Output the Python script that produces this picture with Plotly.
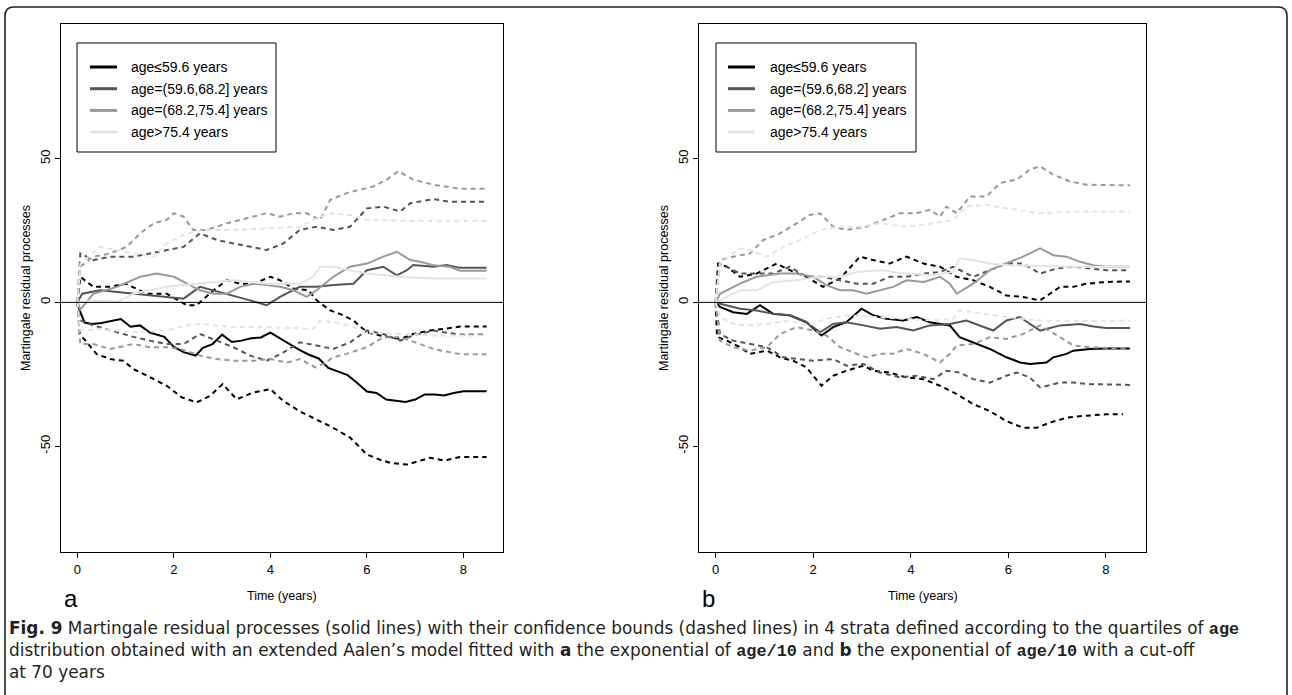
import plotly.graph_objects as go

# ------------------------------------------------------------------ data
LEGEND_LABELS = ["age≤59.6 years", "age=(59.6,68.2] years", "age=(68.2,75.4] years", "age>75.4 years"]
X_TICKS = [0, 2, 4, 6, 8]
Y_TICKS = [-50, 0, 50]

# ---- panel a : black stratum (age<=59.6)
A_BLK_T = [0, 0.05, 0.15, 0.3, 0.5, 0.7, 0.9, 1.1, 1.3, 1.5, 1.8, 2.0, 2.2, 2.45, 2.6, 2.8, 3.0, 3.2, 3.4, 3.6, 3.8, 4.0, 4.2, 4.4, 4.6, 4.8, 5.0, 5.2, 5.4, 5.6, 5.8, 6.0, 6.2, 6.4, 6.6, 6.8, 7.0, 7.2, 7.4, 7.6, 7.8, 8.0, 8.48]
A_BLK_Y = [0, -3, -7, -7.5, -7.2, -6.5, -5.8, -8.5, -8.0, -10.5, -12, -15.5, -17.3, -18.5, -15.8, -14.5, -11.2, -13.8, -13.3, -12.5, -12.2, -10.5, -12.5, -14.8, -16.5, -18.2, -19.5, -22.8, -24.0, -25.3, -28, -31, -31.5, -33.8, -34.2, -34.6, -33.8, -32, -32, -32.4, -31.5, -30.9, -30.9]
A_BLK_LO_T = [0, 0.05, 0.4, 0.68, 0.95, 1.16, 1.5, 1.85, 2.16, 2.47, 2.75, 3.01, 3.3, 3.65, 4.0, 4.27, 4.6, 4.96, 5.3, 5.65, 6.0, 6.27, 6.48, 6.83, 7.1, 7.31, 7.59, 7.93, 8.48]
A_BLK_LO_Y = [0, -11, -18, -19.7, -20.3, -23.2, -26, -29, -33, -34.8, -32.5, -28.4, -33.7, -31.3, -30.2, -34.3, -37.8, -40.7, -43.6, -47, -52.9, -54.7, -55.8, -56.4, -55.2, -54, -55, -53.8, -53.8]
A_BLK_UP_T = [0, 0.06, 0.33, 0.68, 1.0, 1.44, 1.85, 2.27, 2.47, 2.82, 3.1, 3.37, 3.65, 4.0, 4.2, 4.48, 4.79, 4.96, 5.24, 5.44, 5.72, 6.0, 6.27, 6.69, 6.96, 7.31, 7.59, 7.93, 8.48]
A_BLK_UP_Y = [0, 8.9, 5.4, 5.4, 6.5, 3, 3, -1, -1, 4.2, 7.7, 6.5, 6.5, 8.9, 7.7, 4.8, 4.2, 0.7, -2.8, -4, -6.3, -10.4, -11.5, -12.7, -11, -9.8, -9.2, -8.4, -8.4]

# ---- panel a : dark grey stratum (59.6,68.2]
A_DRK_T = [0, 0.1, 0.47, 1.16, 1.5, 2.2, 2.54, 3.1, 3.58, 3.92, 4.2, 4.61, 4.96, 5.3, 5.72, 6.0, 6.34, 6.62, 6.83, 6.96, 7.38, 7.65, 7.93, 8.48]
A_DRK_Y = [0, 3, 4.2, 3, 2.5, 1.3, 5.4, 3, 0.7, -1, 1.9, 5.4, 5.4, 6, 6.5, 11.2, 12.4, 9.4, 11.2, 13, 12.4, 13, 12, 12]
A_DRK_UP_T = [0, 0.06, 0.33, 0.68, 1.16, 1.5, 1.85, 2.2, 2.54, 2.89, 3.23, 3.58, 3.92, 4.27, 4.61, 4.96, 5.3, 5.65, 6.0, 6.34, 6.69, 6.9, 7.38, 7.72, 7.93, 8.48]
A_DRK_UP_Y = [0, 17, 14.7, 15.9, 15.9, 17, 18.2, 19.3, 24, 21.7, 20.5, 19.3, 18.2, 20.5, 25.2, 26.3, 25.2, 26.3, 32.7, 33.3, 31.6, 34.5, 35.9, 35, 35, 35]
A_DRK_LO_T = [0, 0.06, 0.33, 0.68, 1.16, 1.5, 1.85, 2.2, 2.54, 2.89, 3.23, 3.58, 3.92, 4.27, 4.61, 4.96, 5.3, 5.65, 6.0, 6.34, 6.69, 6.96, 7.38, 7.72, 7.93, 8.48]
A_DRK_LO_Y = [0, -6.3, -8, -9.8, -12, -13.3, -14.5, -14.5, -11, -13.3, -15.6, -18.5, -20.3, -17.4, -13.9, -15, -16.2, -13.9, -9.8, -11, -13.3, -11.5, -9.8, -10.7, -11.2, -11.2]

# ---- panel a : mid grey stratum (68.2,75.4]
A_MID_T = [0, 0.06, 0.33, 0.82, 1.3, 1.64, 2.0, 2.27, 2.54, 2.82, 3.1, 3.37, 3.65, 3.92, 4.2, 4.48, 4.75, 4.96, 5.3, 5.65, 6.0, 6.34, 6.62, 6.9, 7.1, 7.38, 7.72, 7.93, 8.48]
A_MID_Y = [0, -2.5, 3, 5.4, 8.9, 10, 8.9, 6.5, 4.2, 3, 3, 5.4, 6.5, 6, 5.4, 4.2, 1.9, 4.2, 8.9, 12.4, 13.5, 15.9, 17.6, 14.7, 14.1, 12.9, 12.4, 11, 11]
A_MID_UP_T = [0, 0.06, 0.33, 0.68, 1.02, 1.3, 1.58, 1.85, 2.0, 2.2, 2.4, 2.68, 3.1, 3.37, 3.65, 3.92, 4.2, 4.48, 4.75, 5.03, 5.24, 5.58, 5.86, 6.13, 6.41, 6.65, 6.96, 7.38, 7.93, 8.48]
A_MID_UP_Y = [0, 12.4, 15.9, 17, 19.3, 24, 27.5, 28.7, 31, 29.8, 25.2, 25.2, 27.5, 28.7, 29.8, 31, 29.8, 31, 31, 28.7, 35.7, 38, 39.2, 40.3, 42.7, 45.6, 42.7, 40.9, 39.5, 39.5]
A_MID_LO_T = [0, 0.06, 0.33, 0.68, 1.16, 1.5, 1.85, 2.13, 2.54, 2.89, 3.23, 3.65, 4.0, 4.34, 4.61, 4.93, 5.1, 5.3, 5.58, 6.0, 6.34, 6.69, 7.1, 7.38, 7.93, 8.48]
A_MID_LO_Y = [0, -14.5, -14.5, -16.2, -14.5, -15.6, -15.6, -16.2, -18.5, -19.7, -20.3, -20.3, -19.7, -20.9, -19.7, -22.6, -21.4, -19.1, -17.9, -15.6, -12.1, -12.1, -14.5, -16.2, -18, -18]

# ---- panel a : light grey stratum (>75.4)
A_LGT_T = [0, 0.33, 0.82, 1.16, 1.85, 2.54, 3.23, 3.92, 4.61, 4.89, 5.03, 5.3, 5.65, 6.0, 6.69, 7.38, 8.48]
A_LGT_Y = [0, 0.7, 0.1, 3, 5.4, 6.5, 7.7, 6.5, 6.5, 8.9, 12.4, 12.4, 11.2, 10, 8.9, 8.3, 8.3]
A_LGT_UP_T = [0, 0.06, 0.47, 1.16, 1.58, 1.85, 2.27, 2.68, 3.23, 3.92, 4.61, 5.03, 5.3, 5.65, 6.0, 6.69, 7.38, 8.48]
A_LGT_UP_Y = [0, 13.5, 19.3, 17, 15.9, 20.5, 24, 25.2, 25.2, 25.8, 26.3, 29.8, 31, 30.4, 28.7, 28.4, 28.4, 28.4]
A_LGT_LO_T = [0, 0.06, 0.47, 1.16, 1.85, 2.27, 2.54, 3.23, 3.92, 4.61, 4.89, 5.03, 5.3, 5.65, 6.0, 6.69, 7.38, 8.48]
A_LGT_LO_Y = [0, -9.8, -9.2, -10.4, -9.8, -8, -7.5, -8.6, -8.6, -9.2, -9.2, -6.3, -6.9, -8, -10.4, -11, -11.5, -11.5]

# ---- panel b : black stratum
B_BLK_T = [0, 0.09, 0.36, 0.64, 0.91, 1.18, 1.52, 1.86, 2.17, 2.41, 2.68, 2.99, 3.23, 3.5, 3.85, 4.12, 4.39, 4.8, 5.0, 5.28, 5.62, 5.96, 6.24, 6.44, 6.78, 6.92, 7.19, 7.33, 7.67, 8.01, 8.49]
B_BLK_Y = [0, -1.6, -3.4, -4, -1, -4, -4.5, -6.9, -11.5, -8.6, -6.9, -2.2, -4.5, -5.7, -6.3, -5.1, -6.9, -8, -12.1, -13.9, -16.2, -19.1, -20.9, -21.4, -20.9, -19.1, -17.9, -16.8, -16.2, -16, -16]
B_BLK_UP_T = [0, 0.05, 0.23, 0.5, 0.84, 1.25, 1.52, 1.86, 2.2, 2.55, 2.96, 3.23, 3.57, 3.91, 4.26, 4.6, 4.94, 5.28, 5.62, 5.96, 6.3, 6.65, 6.85, 7.06, 7.33, 7.6, 8.01, 8.49]
B_BLK_UP_Y = [0, 13.5, 12.4, 8.9, 10, 13.5, 11.2, 8.9, 5.4, 8.3, 15.9, 14.7, 13.5, 15.9, 13.5, 12.4, 8.9, 7.7, 5.4, 2.4, 1.9, 0.7, 3, 5.4, 5.4, 6.5, 7.1, 7.3]
B_BLK_LO_T = [0, 0.03, 0.23, 0.5, 0.7, 1.05, 1.32, 1.59, 1.86, 2.17, 2.41, 2.68, 3.03, 3.23, 3.57, 3.91, 4.26, 4.6, 4.94, 5.28, 5.62, 5.96, 6.3, 6.58, 6.85, 7.19, 7.53, 8.01, 8.35]
B_BLK_LO_Y = [0, -12, -13.3, -15.6, -17.9, -16.8, -19.1, -20.3, -22.6, -29, -25.5, -23.8, -22, -23.8, -24.4, -26.1, -26.7, -29, -31.9, -35.4, -37.8, -41.3, -43.6, -43.6, -41.8, -40.1, -39.5, -38.9, -38.9]

# ---- panel b : dark grey stratum
B_DRK_T = [0, 0.09, 0.5, 0.84, 1.18, 1.52, 1.86, 2.14, 2.41, 2.68, 3.03, 3.37, 3.71, 4.05, 4.39, 4.8, 5.14, 5.42, 5.69, 5.96, 6.24, 6.44, 6.65, 7.06, 7.47, 7.74, 8.01, 8.49]
B_DRK_Y = [0, -0.5, -2.2, -2.8, -4, -4.5, -6.9, -10.4, -7.5, -6.9, -8, -9.2, -8.6, -9.8, -8, -7.5, -6.3, -8, -9.8, -6.3, -5.1, -7.5, -9.8, -8, -7.5, -8.4, -8.9, -8.9]
B_DRK_UP_T = [0, 0.09, 0.5, 1.18, 1.52, 1.86, 2.2, 2.55, 2.89, 3.23, 3.57, 3.91, 4.26, 4.6, 4.87, 5.28, 5.62, 5.96, 6.3, 6.65, 6.99, 7.33, 8.01, 8.49]
B_DRK_UP_Y = [0, 13.5, 10, 10, 12.4, 8.9, 8.9, 7.7, 6.5, 6.5, 8.9, 8.9, 10, 10.6, 12.4, 8.9, 11.2, 13.5, 13.5, 10, 11.8, 12.4, 11.2, 11.2]
B_DRK_LO_T = [0, 0.09, 0.36, 0.7, 1.05, 1.39, 1.66, 2.0, 2.41, 2.68, 3.03, 3.37, 3.78, 4.12, 4.46, 4.73, 5.0, 5.28, 5.62, 5.96, 6.17, 6.44, 6.65, 7.06, 7.33, 7.67, 8.49]
B_DRK_LO_Y = [0, -11, -13.3, -14.5, -15.6, -19.1, -19.7, -20.3, -19.7, -22, -21.4, -24.4, -26.1, -25.5, -26.7, -23.8, -24.4, -26.7, -27.9, -25.5, -24.4, -26.1, -29.6, -27.9, -27.9, -28.4, -28.7]

# ---- panel b : mid grey stratum
B_MID_T = [0, 0.09, 0.5, 0.84, 1.32, 1.66, 2.0, 2.27, 2.55, 2.82, 3.09, 3.37, 3.64, 3.91, 4.26, 4.6, 4.8, 4.94, 5.28, 5.62, 5.96, 6.3, 6.65, 6.92, 7.19, 7.47, 7.74, 8.01, 8.49]
B_MID_Y = [0, 3, 6.5, 8.9, 10, 10, 8.9, 6, 4.2, 4.2, 3, 4.2, 5.4, 7.7, 7.1, 8.9, 6.5, 3, 6.5, 11.2, 13.5, 15.9, 18.8, 16.4, 15.9, 14.1, 12.9, 12.4, 12.4]
B_MID_UP_T = [0, 0.09, 0.36, 0.7, 0.98, 1.32, 1.66, 1.93, 2.14, 2.41, 2.68, 3.09, 3.44, 3.78, 4.12, 4.39, 4.6, 4.73, 4.94, 5.21, 5.55, 5.83, 6.17, 6.44, 6.65, 6.92, 7.26, 7.6, 8.49]
B_MID_UP_Y = [0, 14.7, 15.9, 17, 21.7, 24, 27.5, 30.4, 31, 26.3, 25.2, 26.3, 28.7, 31, 31, 32.2, 29.8, 33.3, 31, 36.8, 36.8, 41.5, 42.7, 46.2, 47.3, 44.4, 42.1, 40.9, 40.7]
B_MID_LO_T = [0, 0.09, 0.36, 0.7, 1.05, 1.32, 1.66, 2.0, 2.27, 2.55, 2.82, 3.09, 3.37, 3.64, 3.91, 4.26, 4.6, 4.8, 4.94, 5.28, 5.62, 5.96, 6.3, 6.65, 7.06, 7.33, 7.67, 8.49]
B_MID_LO_Y = [0, -13.3, -15.6, -16.8, -15.6, -11, -8.6, -9.8, -11.5, -15.6, -17.4, -19.1, -17.9, -17.9, -16.2, -17.9, -20.9, -17.9, -15, -14.5, -12.1, -12.7, -11, -8, -12.1, -15, -15.6, -16.2]

# ---- panel b : light grey stratum
B_LGT_T = [0, 0.09, 0.5, 0.84, 1.18, 1.66, 2.14, 2.55, 2.89, 3.37, 3.91, 4.46, 4.87, 5.0, 5.28, 5.62, 5.96, 6.65, 7.33, 8.49]
B_LGT_Y = [0, 0.7, 4.2, 4.2, 7.1, 7.7, 8.9, 8.9, 10.6, 11.2, 10, 9.4, 10.6, 15.3, 14.7, 13.5, 12.9, 12.6, 12.4, 12.4]
B_LGT_UP_T = [0, 0.09, 0.5, 0.7, 1.05, 1.39, 1.73, 2.14, 2.55, 2.96, 3.37, 3.91, 4.46, 4.87, 5.14, 5.55, 5.96, 6.65, 7.33, 8.49]
B_LGT_UP_Y = [0, 13.5, 18.8, 18.2, 15.9, 19.3, 21.7, 25.2, 26.3, 26.3, 27.5, 26.3, 27.5, 28.7, 33.3, 33.9, 32.7, 31, 31.6, 31.6]
B_LGT_LO_T = [0, 0.09, 0.36, 0.7, 1.05, 1.52, 1.86, 2.27, 2.68, 3.23, 3.91, 4.46, 4.87, 5.0, 5.28, 5.96, 6.65, 7.33, 8.49]
B_LGT_LO_Y = [0, -5, -7.5, -8, -7.5, -6.3, -8, -5.7, -4.5, -5.1, -5.7, -6.3, -5.7, -2.8, -3.4, -5.1, -6.3, -6.5, -6.3]

# ------------------------------------------------------------------ style
W, H = 1292, 695
COLORS = ["#000000", "#555555", "#999999", "#e4e4e4"]
AX_FONT = "Liberation Sans, Arial, sans-serif"
CAP_FONT = "DejaVu Sans, Open Sans, sans-serif"


def px(x):
    return x / W


def py(y):
    return 1 - y / H


PANEL_A = [
    (A_BLK_T, A_BLK_Y, A_BLK_UP_T, A_BLK_UP_Y, A_BLK_LO_T, A_BLK_LO_Y),
    (A_DRK_T, A_DRK_Y, A_DRK_UP_T, A_DRK_UP_Y, A_DRK_LO_T, A_DRK_LO_Y),
    (A_MID_T, A_MID_Y, A_MID_UP_T, A_MID_UP_Y, A_MID_LO_T, A_MID_LO_Y),
    (A_LGT_T, A_LGT_Y, A_LGT_UP_T, A_LGT_UP_Y, A_LGT_LO_T, A_LGT_LO_Y),
]
PANEL_B = [
    (B_BLK_T, B_BLK_Y, B_BLK_UP_T, B_BLK_UP_Y, B_BLK_LO_T, B_BLK_LO_Y),
    (B_DRK_T, B_DRK_Y, B_DRK_UP_T, B_DRK_UP_Y, B_DRK_LO_T, B_DRK_LO_Y),
    (B_MID_T, B_MID_Y, B_MID_UP_T, B_MID_UP_Y, B_MID_LO_T, B_MID_LO_Y),
    (B_LGT_T, B_LGT_Y, B_LGT_UP_T, B_LGT_UP_Y, B_LGT_LO_T, B_LGT_LO_Y),
]

fig = go.Figure()

for panel, (xa, ya) in ((PANEL_A, ("x", "y")), (PANEL_B, ("x2", "y2"))):
    for i, (t, y, tu, yu, tl, yl) in enumerate(panel):
        c = COLORS[i]
        fig.add_trace(go.Scatter(x=t, y=y, mode="lines", xaxis=xa, yaxis=ya,
                                 line=dict(color=c, width=2), showlegend=False,
                                 hoverinfo="skip"))
        for tt, yy in ((tu, yu), (tl, yl)):
            fig.add_trace(go.Scatter(x=tt, y=yy, mode="lines", xaxis=xa, yaxis=ya,
                                     line=dict(color=c, width=2, dash="5px,4px"),
                                     showlegend=False, hoverinfo="skip"))

# panel geometry in pixels
PANELS = {
    "a": dict(l=61, r=503, t=24, b=552, ylab=26, legend=(77, 276, 43, 152), lx=(90, 117), tx=129),
    "b": dict(l=699, r=1146, t=24, b=552, ylab=664, legend=(716, 916, 43, 152), lx=(728, 755), tx=768),
}

axis_common = dict(showgrid=False, zeroline=False, showline=True, mirror=True,
                   linecolor="black", linewidth=1, ticks="outside", ticklen=5,
                   tickcolor="black", tickwidth=1,
                   tickfont=dict(family=AX_FONT, size=13, color="black"))

layout = dict(width=W, height=H, margin=dict(l=0, r=0, t=0, b=0),
              paper_bgcolor="white", plot_bgcolor="white", showlegend=False)

for key, (xn, yn, xr, yr) in (("a", ("xaxis", "yaxis", "x", "y")), ("b", ("xaxis2", "yaxis2", "x2", "y2"))):
    p = PANELS[key]
    layout[xn] = dict(axis_common, domain=[px(p["l"]), px(p["r"])], range=[-0.34, 8.82],
                      tickvals=X_TICKS, ticktext=[str(v) for v in X_TICKS], anchor=yr)
    layout[yn] = dict(axis_common, domain=[py(p["b"]), py(p["t"])], range=[-86.8, 96.8],
                      tickvals=Y_TICKS, ticktext=[str(v) for v in Y_TICKS], tickangle=-90,
                      anchor=xr)

fig.update_layout(**layout)

shapes = []
annotations = []
for key, (xr, yr) in (("a", ("x", "y")), ("b", ("x2", "y2"))):
    p = PANELS[key]
    # horizontal reference line at 0
    shapes.append(dict(type="line", xref=xr + " domain", yref=yr, x0=0, x1=1, y0=0, y1=0,
                       line=dict(color="black", width=1)))
    # legend box
    lx0, lx1, ly0, ly1 = p["legend"]
    shapes.append(dict(type="rect", xref="paper", yref="paper", x0=px(lx0), x1=px(lx1),
                       y0=py(ly1), y1=py(ly0), line=dict(color="black", width=1),
                       fillcolor="white"))
    for i, lab in enumerate(LEGEND_LABELS):
        yy = 67 + i * 21.7
        shapes.append(dict(type="line", xref="paper", yref="paper", x0=px(p["lx"][0]), x1=px(p["lx"][1]),
                           y0=py(yy), y1=py(yy), line=dict(color=COLORS[i], width=3)))
        annotations.append(dict(text=lab, xref="paper", yref="paper", x=px(p["tx"]), y=py(yy),
                                xanchor="left", yanchor="middle", showarrow=False,
                                font=dict(family=AX_FONT, size=14, color="black")))
    cx = (p["l"] + p["r"]) / 2
    annotations.append(dict(text="Time (years)", xref="paper", yref="paper", x=px(cx), y=py(596),
                            xanchor="center", yanchor="middle", showarrow=False,
                            font=dict(family=AX_FONT, size=12.5, color="black")))
    annotations.append(dict(text="Martingale residual processes", xref="paper", yref="paper",
                            x=px(p["ylab"]), y=py((p["t"] + p["b"]) / 2), textangle=-90,
                            xanchor="center", yanchor="middle", showarrow=False,
                            font=dict(family=AX_FONT, size=12.5, color="black")))
    annotations.append(dict(text=key, xref="paper", yref="paper", x=px(p["l"] + 1), y=py(598),
                            xanchor="left", yanchor="middle", showarrow=False,
                            font=dict(family=AX_FONT, size=24, color="black")))

# outer rounded frame (open at the bottom)
def P(x, y):
    return f"{px(x):.6f},{py(y):.6f}"

frame = (f"M {P(5, 700)} L {P(5, 16)} Q {P(5, 7)} {P(14, 7)} L {P(1278, 7)} "
         f"Q {P(1287, 7)} {P(1287, 16)} L {P(1287, 700)}")
shapes.append(dict(type="path", xref="paper", yref="paper", path=frame,
                   line=dict(color="#222222", width=1.6)))

MONO = '<span style="font-family:Liberation Mono"><b>{}</b></span>'
CAPTION = [
    "<b>Fig. 9</b> Martingale residual processes (solid lines) with their confidence bounds (dashed lines) "
    "in 4 strata defined according to the quartiles of " + MONO.format("age"),
    "distribution obtained with an extended Aalen’s model fitted with <b>a</b> the exponential of "
    + MONO.format("age/10") + " and <b>b</b> the exponential of " + MONO.format("age/10") + " with a cut-off",
    "at 70 years",
]
for i, line in enumerate(CAPTION):
    annotations.append(dict(text=line, xref="paper", yref="paper", x=px(7), y=py(628 + 22 * i),
                            xanchor="left", yanchor="middle", showarrow=False,
                            font=dict(family=CAP_FONT, size=16.9, color="#231f20")))

fig.update_layout(shapes=shapes, annotations=annotations)
fig.write_html("out.html")
